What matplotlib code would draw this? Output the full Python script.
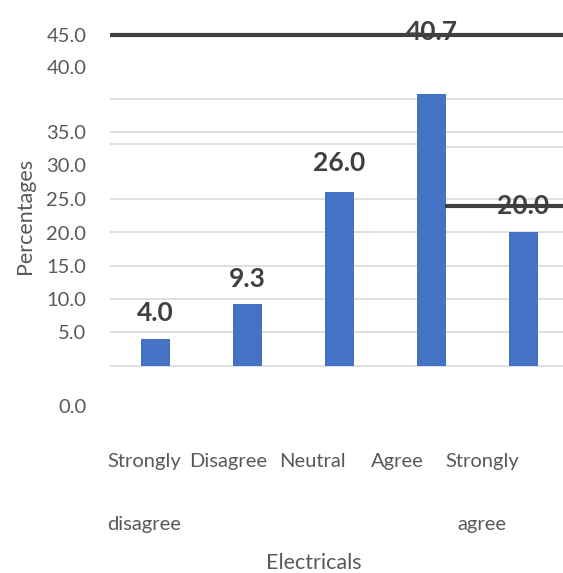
import matplotlib.pyplot as plt

categories = ["Strongly disagree", "Disagree", "Neutral", "Agree", "Strongly agree"]
percentages = [4.0, 9.3, 26.0, 40.7, 20.0]

# y-axis labels and the heights where they sit
ytick_labels = ["45.0", "40.0", "35.0", "30.0", "25.0", "20.0", "15.0", "10.0", "5.0", "0.0"]
ytick_pos = [49.6, 44.8, 35.1, 30.1, 25.0, 19.9, 15.0, 10.0, 5.0, -6.0]

grid_levels = [0, 5, 10, 15, 20, 25, 35, 40]

BAR = "#4472C4"
TXT = "#595959"
DARK = "#404040"

plt.rcParams["font.family"] = ["Lato", "DejaVu Sans"]

fig = plt.figure(figsize=(5.63, 5.73), dpi=100)
ax = fig.add_axes([110 / 563, 0.2688, 453 / 563, 0.6980])

x = list(range(len(categories)))
ax.bar(x, percentages, width=0.315, color=BAR, zorder=2)

# light gridlines behind the bars
for g in grid_levels:
    ax.axhline(g, color="#D9D9D9", lw=1.2, zorder=0)
ax.hlines(33.3, -0.5, 3.0, color="#D9D9D9", lw=1.2, zorder=0)
ax.hlines(32.8, 3.0, 4.5, color="#D9D9D9", lw=1.2, zorder=0)

# value labels
label_lift = [3.9, 3.7, 4.4, 9.4, 4.0]
for xi, v, d in zip(x, percentages, label_lift):
    ax.text(xi, v + d, f"{v:.1f}", ha="center", va="center",
            fontsize=19, fontweight="bold", color=DARK, zorder=3)

# dark rules drawn over the labels
ax.axhline(49.6, color=DARK, lw=3, zorder=4)
ax.hlines(24.0, 3.147, 4.5, color=DARK, lw=3, zorder=4)

ax.set_xlim(-0.495, 4.43)
ax.set_ylim(-8, 52)
ax.set_yticks(ytick_pos)
ax.set_yticklabels(ytick_labels, fontsize=14.5, color=TXT)
ax.tick_params(axis="y", length=0, pad=17)
ax.set_xticks([])
for s in ax.spines.values():
    s.set_visible(False)

# category names split over two rows
trans = ax.get_xaxis_transform()
for i, name in enumerate(categories):
    parts = name.split(" ", 1)
    xpos = -0.125 + 0.918 * i
    ax.text(xpos, -0.1075, parts[0], transform=trans, ha="center", va="center",
            fontsize=14.5, color=TXT)
    if len(parts) > 1:
        ax.text(xpos, -0.265, parts[1], transform=trans, ha="center", va="center",
                fontsize=14.5, color=TXT)

fig.text(314 / 563, 1 - 563 / 573, "Electricals", ha="center", va="center",
         fontsize=15.5, color=TXT)
fig.text(25 / 563, 1 - 216 / 573, "Percentages", ha="center", va="center",
         rotation=90, fontsize=15.5, color=TXT)

fig.savefig("out.png", dpi=100)
